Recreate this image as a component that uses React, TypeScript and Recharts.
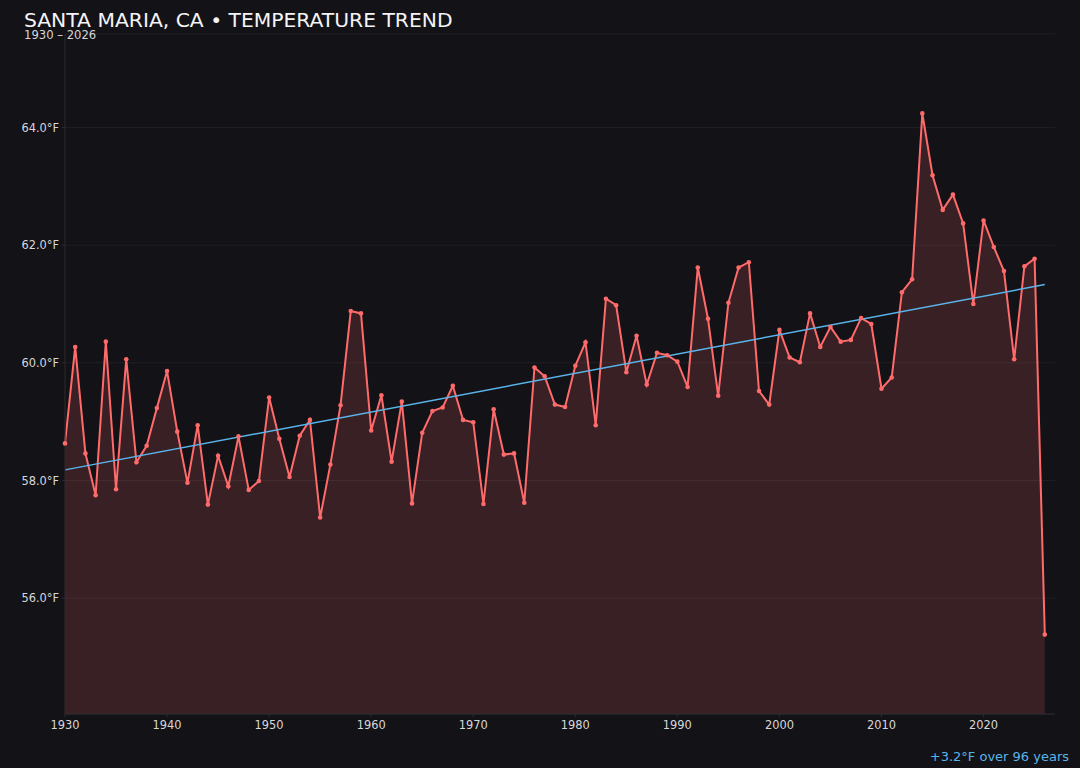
import React from 'react';
import {
  ComposedChart,
  Area,
  Line,
  XAxis,
  YAxis,
  CartesianGrid,
} from 'recharts';

const years = [
  1930, 1931, 1932, 1933, 1934, 1935, 1936, 1937, 1938, 1939,
  1940, 1941, 1942, 1943, 1944, 1945, 1946, 1947, 1948, 1949,
  1950, 1951, 1952, 1953, 1954, 1955, 1956, 1957, 1958, 1959,
  1960, 1961, 1962, 1963, 1964, 1965, 1966, 1967, 1968, 1969,
  1970, 1971, 1972, 1973, 1974, 1975, 1976, 1977, 1978, 1979,
  1980, 1981, 1982, 1983, 1984, 1985, 1986, 1987, 1988, 1989,
  1990, 1991, 1992, 1993, 1994, 1995, 1996, 1997, 1998, 1999,
  2000, 2001, 2002, 2003, 2004, 2005, 2006, 2007, 2008, 2009,
  2010, 2011, 2012, 2013, 2014, 2015, 2016, 2017, 2018, 2019,
  2020, 2021, 2022, 2023, 2024, 2025, 2026,
];

// annual mean temperature, °F
const temps = [
  58.63, 60.27, 58.46, 57.75, 60.36, 57.85, 60.06, 58.31, 58.59, 59.23,
  59.86, 58.83, 57.96, 58.94, 57.59, 58.42, 57.90, 58.75, 57.84, 57.99,
  59.41, 58.71, 58.06, 58.76, 59.03, 57.37, 58.27, 59.28, 60.88, 60.84,
  58.85, 59.45, 58.32, 59.34, 57.61, 58.81, 59.18, 59.24, 59.61, 59.03,
  58.99, 57.60, 59.21, 58.44, 58.46, 57.62, 59.92, 59.77, 59.29, 59.25,
  59.95, 60.35, 58.94, 61.09, 60.98, 59.84, 60.46, 59.63, 60.17, 60.13,
  60.02, 59.59, 61.62, 60.75, 59.44, 61.02, 61.62, 61.71, 59.52, 59.29,
  60.56, 60.09, 60.01, 60.84, 60.27, 60.61, 60.36, 60.39, 60.76, 60.66,
  59.56, 59.75, 61.20, 61.42, 64.24, 63.19, 62.60, 62.86, 62.37, 61.00,
  62.42, 61.97, 61.56, 60.06, 61.64, 61.77, 55.38,
];

// linear trend end points
const trendYears = [1930, 2026];
const trendValues = [58.18, 61.33];

const yTicks = [56, 58, 60, 62, 64];
const xTicks = [1930, 1940, 1950, 1960, 1970, 1980, 1990, 2000, 2010, 2020];

const data = years.map((year, i) => {
  const t = trendYears.indexOf(year);
  return { year, temp: temps[i], trend: t >= 0 ? trendValues[t] : null };
});

const BG = '#131217';
const RED = '#ff6b6b';
const BLUE = '#5ab4ea';
const FONT = '"DejaVu Sans", sans-serif';

const App: React.FC = () => {
  return (
    <div
      style={{
        position: 'fixed',
        left: 0,
        top: 0,
        width: 1080,
        height: 768,
        background: BG,
        fontFamily: FONT,
        overflow: 'hidden',
      }}
    >
      <div style={{ position: 'absolute', left: 24, top: 10.3, fontSize: 20.3, lineHeight: '20px', color: '#f4f4f6', whiteSpace: 'nowrap' }}>
        SANTA MARIA, CA • TEMPERATURE TREND
      </div>
      <div style={{ position: 'absolute', left: 24, top: 29.6, fontSize: 11.6, lineHeight: '11px', color: '#d6d6da', whiteSpace: 'nowrap' }}>
        1930 – 2026
      </div>
      <ComposedChart
        width={1080}
        height={768}
        data={data}
        margin={{ top: 34, right: 25, left: 5, bottom: 24 }}
      >
        <CartesianGrid stroke="#ffffff" strokeOpacity={0.06} vertical={false} />
        <XAxis
          dataKey="year"
          type="number"
          domain={[1930, 2027]}
          ticks={xTicks}
          allowDecimals={false}
          height={30}
          tickSize={3}
          tickMargin={4}
          stroke="#2b2a31"
          tick={{ fill: '#d8d8dc', fontSize: 11.4, fontFamily: FONT }}
        />
        <YAxis
          type="number"
          domain={[54.03, 65.59]}
          ticks={yTicks}
          width={60}
          tickSize={3}
          tickMargin={3}
          stroke="#2b2a31"
          tickFormatter={(v: number) => `${v.toFixed(1)}°F`}
          tick={{ fill: '#d8d8dc', fontSize: 11.4, fontFamily: FONT }}
        />
        <Area
          type="linear"
          dataKey="temp"
          stroke={RED}
          strokeWidth={2}
          fill={RED}
          fillOpacity={0.16}
          dot={{ r: 2.3, fill: RED, stroke: 'none', fillOpacity: 1 }}
          activeDot={false}
          isAnimationActive={false}
        />
        <Line
          type="linear"
          dataKey="trend"
          stroke={BLUE}
          strokeWidth={1.5}
          dot={false}
          activeDot={false}
          connectNulls
          isAnimationActive={false}
        />
      </ComposedChart>
      <div style={{ position: 'absolute', right: 11, top: 749.5, fontSize: 13, lineHeight: '13px', color: BLUE, whiteSpace: 'nowrap' }}>
        +3.2°F over 96 years
      </div>
    </div>
  );
};

export default App;
